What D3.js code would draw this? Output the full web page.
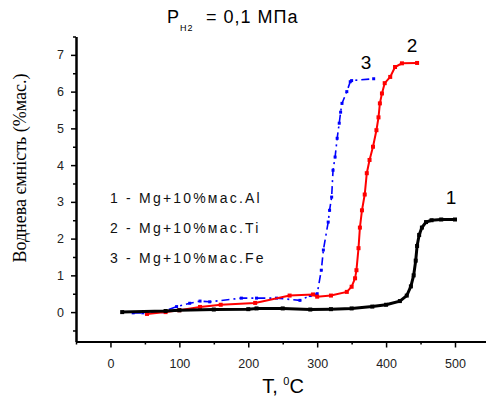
<!DOCTYPE html>
<html>
<head>
<meta charset="utf-8">
<script src="https://cdn.jsdelivr.net/npm/d3@7"></script>
<style>
  body { margin: 0; background: #fff; }
  text { font-family: Arial, "Liberation Sans", sans-serif; }
</style>
</head>
<body>
<div id="chart"></div>
<script>
var width = 486, height = 400;

// curve 1 - Mg+10%mac.Al (black)
var temp1 = [17, 80, 100, 150, 200, 212, 250, 290, 320, 350, 380, 400, 420, 430, 436, 440, 443, 445, 448, 452, 458, 466, 480, 500];
var cap1  = [0.0, 0.03, 0.05, 0.07, 0.08, 0.1, 0.1, 0.07, 0.08, 0.1, 0.15, 0.2, 0.3, 0.45, 0.7, 1.0, 1.4, 1.8, 2.1, 2.3, 2.45, 2.5, 2.52, 2.52];
// curve 2 - Mg+10%mac.Ti (red)
var temp2 = [53, 80, 100, 130, 160, 210, 260, 294, 300, 320, 343, 350, 355, 357, 360, 362, 365, 369, 372, 376, 381, 386, 389, 391, 394, 398, 406, 413, 423, 445];
var cap2  = [-0.05, 0.0, 0.05, 0.14, 0.2, 0.25, 0.45, 0.48, 0.42, 0.45, 0.55, 0.69, 0.92, 1.14, 1.74, 2.3, 2.77, 3.2, 3.78, 4.14, 4.5, 4.95, 5.3, 5.68, 5.95, 6.23, 6.4, 6.67, 6.77, 6.78];
// curve 3 - Mg+10%mac.Fe (blue)
var temp3 = [33, 47, 76, 96, 115, 130, 144, 190, 212, 241, 275, 290, 300, 306, 309, 316, 318, 321, 323, 326, 329, 332, 334, 336, 343, 348, 350, 382];
var cap3  = [-0.02, -0.02, 0.01, 0.15, 0.24, 0.3, 0.28, 0.38, 0.38, 0.38, 0.32, 0.45, 0.5, 1.14, 1.69, 2.45, 2.77, 3.13, 3.86, 4.22, 4.73, 5.14, 5.44, 5.68, 6.0, 6.27, 6.3, 6.35];

var xTicks = [0, 100, 200, 300, 400, 500];
var yTicks = [0, 1, 2, 3, 4, 5, 6, 7];
var legendLabels = ["1 - Mg+10%мас.Al", "2 - Mg+10%мас.Ti", "3 - Mg+10%мас.Fe"];

var svg = d3.select("#chart").append("svg")
  .attr("width", width)
  .attr("height", height);

var x = d3.scaleLinear().domain([-50, 545]).range([76, 486]);
var y = d3.scaleLinear().domain([-0.8, 7.5]).range([341.5, 36.5]);

// axes
var xAxis = svg.append("g")
  .attr("transform", "translate(0," + y(-0.8) + ")")
  .call(d3.axisBottom(x).tickValues(xTicks).tickSize(6).tickSizeOuter(0).tickPadding(12));
var xMinor = svg.append("g")
  .attr("transform", "translate(0," + y(-0.8) + ")")
  .call(d3.axisBottom(x).tickValues([-50, 50, 150, 250, 350, 450]).tickSize(3).tickSizeOuter(0).tickFormat(""));

var yAxis = svg.append("g")
  .attr("transform", "translate(" + x(-50) + ",0)")
  .call(d3.axisLeft(y).tickValues(yTicks).tickSize(5).tickSizeOuter(0).tickPadding(7));
var yMinor = svg.append("g")
  .attr("transform", "translate(" + x(-50) + ",0)")
  .call(d3.axisLeft(y).tickValues([-0.5, 0.5, 1.5, 2.5, 3.5, 4.5, 5.5, 6.5, 7.5]).tickSize(3).tickSizeOuter(0).tickFormat(""));

[xAxis, xMinor, yAxis, yMinor].forEach(function(a) {
  a.select(".domain").attr("stroke", "#000").attr("stroke-width", 2);
  a.selectAll(".tick line").attr("stroke", "#000").attr("stroke-width", 1.5);
  a.selectAll(".tick text").style("font-size", "12.5px").attr("fill", "#222");
});

// curves
function drawCurve(tx, cy, color, dash, w, ms) {
  var pts = tx.map(function(t, i) { return [t, cy[i]]; });
  var line = d3.line().x(function(d) { return x(d[0]); }).y(function(d) { return y(d[1]); });
  svg.append("path")
    .datum(pts)
    .attr("d", line)
    .attr("fill", "none")
    .attr("stroke", color)
    .attr("stroke-width", w)
    .attr("stroke-dasharray", dash);
  svg.append("g").selectAll("rect")
    .data(pts)
    .enter().append("rect")
    .attr("x", function(d) { return x(d[0]) - ms / 2; })
    .attr("y", function(d) { return y(d[1]) - ms / 2; })
    .attr("width", ms)
    .attr("height", ms)
    .attr("fill", color);
}

drawCurve(temp3, cap3, "#0000ff", "8,4,2,4", 1.6, 3);
drawCurve(temp2, cap2, "#ff0000", null, 2, 4);
drawCurve(temp1, cap1, "#000000", null, 3, 4);

// curve numbers
svg.append("text").text("1").attr("x", 451).attr("y", 204).attr("text-anchor", "middle").style("font-size", "19px");
svg.append("text").text("2").attr("x", 412).attr("y", 52).attr("text-anchor", "middle").style("font-size", "19px");
svg.append("text").text("3").attr("x", 366).attr("y", 69).attr("text-anchor", "middle").style("font-size", "19px");

// legend text
legendLabels.forEach(function(l, i) {
  svg.append("text")
    .text(l)
    .attr("x", 110)
    .attr("y", 203 + i * 30)
    .style("font-size", "14px")
    .style("letter-spacing", "2.2px")
    .attr("fill", "#111");
});

// title
var title = svg.append("text").attr("x", 167).attr("y", 23).style("font-size", "18px").style("letter-spacing", "1px");
title.append("tspan").text("P");
title.append("tspan").text("H2").attr("dy", 8).style("font-size", "9px");
title.append("tspan").text(" = 0,1 МПа").attr("dy", -8).attr("x", 200);

// axis titles
var xt = svg.append("text").attr("x", 283).attr("y", 393).attr("text-anchor", "middle").style("font-size", "20px");
xt.append("tspan").text("T, ");
xt.append("tspan").text("0").attr("dy", -8).style("font-size", "11px");
xt.append("tspan").text("C").attr("dy", 8);

svg.append("text")
  .text("Воднева ємність (%мас.)")
  .attr("transform", "translate(26,168) rotate(-90)")
  .attr("text-anchor", "middle")
  .style("font-family", "'Liberation Serif', 'Times New Roman', serif")
  .style("font-size", "18px");
</script>
</body>
</html>
